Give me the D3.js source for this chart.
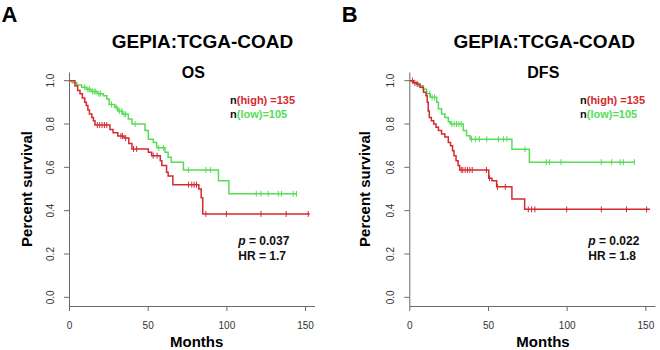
<!DOCTYPE html>
<html>
<head>
<meta charset="utf-8">
<script src="https://cdn.jsdelivr.net/npm/d3@7"></script>
<style>
  body { margin: 0; background: #fff; }
  svg { font-family: Arial, "Liberation Sans", sans-serif; }
</style>
</head>
<body>
<svg id="chart" width="660" height="350"></svg>
<script>
// step curves: [month, survival after the event]
const osHighSteps = [[0,1],[3.8,0.975],[5.5,0.955],[7,0.94],[8.5,0.92],[10,0.9],[11,0.885],[12,0.865],[13,0.846],[14.5,0.83],[15.5,0.815],[16.5,0.795],[26,0.775],[28,0.76],[31,0.745],[35,0.735],[38,0.71],[40,0.685],[50.4,0.67],[52.5,0.654],[58,0.63],[59,0.608],[62,0.577],[63,0.56],[66,0.52],[82.5,0.5],[84,0.46],[85,0.385]];
const osHighEnd = 153;
const osHighCensor = [18,19.5,21,22.5,24,33,34,36,41,43,53.5,56,76,78,79.5,81,87,100,122,138,152];

const osLowSteps = [[0,1],[2,0.99],[5,0.98],[8,0.97],[11,0.96],[14,0.95],[18,0.94],[21.8,0.93],[24,0.915],[25.5,0.89],[29,0.877],[31,0.86],[34,0.845],[37.7,0.823],[40,0.8],[48.3,0.77],[50.4,0.73],[53.6,0.715],[55.7,0.69],[61,0.67],[63,0.646],[65,0.623],[72.7,0.588],[95,0.538],[101.6,0.478]];
const osLowEnd = 144.6;
const osLowCensor = [10,12,13,15,16,17,19,20,27,30,32,33.5,35,36,42,57,60,76,87,90,119,122,126.6,133,135,142.5,144.5];

const dfsHighSteps = [[0,1],[2.5,0.99],[4.5,0.985],[6.8,0.97],[9,0.946],[10.6,0.93],[11.4,0.9],[12,0.86],[12.7,0.83],[14,0.815],[15.5,0.8],[17,0.785],[18.5,0.77],[20.5,0.754],[22.6,0.74],[24.8,0.715],[26.2,0.7],[27.5,0.677],[28.4,0.654],[29.7,0.63],[31,0.608],[32,0.588],[50.5,0.55],[52.5,0.538],[55.5,0.51],[65.2,0.454],[73.3,0.406]];
const dfsHighEnd = 153;
const dfsHighCensor = [2,3.5,5,33,34,35.5,37,38.5,40,49,51,56,61,75.6,77.7,79.8,100,122,138,150.8];

const dfsLowSteps = [[0,1],[2.5,0.99],[5.5,0.977],[8.8,0.96],[11,0.94],[13.3,0.923],[17.4,0.9],[18.5,0.87],[20.5,0.846],[22.6,0.83],[24.8,0.81],[26,0.8],[34.3,0.77],[36.4,0.746],[38.6,0.73],[65.2,0.683],[76.3,0.624]];
const dfsLowEnd = 143.4;
const dfsLowCensor = [13,14.5,16,27,28.5,30,31.5,33,39.5,42,44.5,49.2,56.6,59.8,62,73.5,87,89,96.4,122,128.6,134,136,143];

const xTicks = [0, 50, 100, 150];
const yTicks = [0, 0.2, 0.4, 0.6, 0.8, 1.0];

const red = "#d42a2f";
const green = "#55dd55";

const svg = d3.select("#chart");

const x = d3.scaleLinear().domain([0, 156]).range([0, 245.5]);
const y = d3.scaleLinear().domain([-0.04, 1.04]).range([306, 72]);

const panels = [
    { letter: "A", sub: "OS", x0: 69, titleX: 133.5, subX: 124.3, legX: 161, pX: 169.3, monthsX: 127.7, ylabX: -37.3,
      p: "0.037", hr: "1.7",
      curves: [
          { steps: osLowSteps, end: osLowEnd, censor: osLowCensor, color: green },
          { steps: osHighSteps, end: osHighEnd, censor: osHighCensor, color: red }
      ] },
    { letter: "B", sub: "DFS", x0: 409.3, titleX: 134.9, subX: 134, legX: 170.7, pX: 179, monthsX: 133.7, ylabX: -39.3,
      p: "0.022", hr: "1.8",
      curves: [
          { steps: dfsLowSteps, end: dfsLowEnd, censor: dfsLowCensor, color: green },
          { steps: dfsHighSteps, end: dfsHighEnd, censor: dfsHighCensor, color: red }
      ] }
];

const line = d3.line()
    .x(d => x(d[0]))
    .y(d => y(d[1]))
    .curve(d3.curveStepAfter);

function survAt(steps, t) {
    let s = 1;
    steps.forEach(d => { if (d[0] <= t) s = d[1]; });
    return s;
}

panels.forEach(pn => {
    const g = svg.append("g").attr("transform", `translate(${pn.x0},0)`);

    // panel letter
    svg.append("text")
        .attr("x", pn.x0 - 67.5)
        .attr("y", 21.7)
        .attr("font-size", 22)
        .attr("font-weight", "bold")
        .text(pn.letter);

    g.append("text")
        .attr("x", pn.titleX)
        .attr("y", 48.3)
        .attr("text-anchor", "middle")
        .attr("font-size", 19)
        .attr("font-weight", "bold")
        .text("GEPIA:TCGA-COAD");

    g.append("text")
        .attr("x", pn.subX)
        .attr("y", 78.3)
        .attr("text-anchor", "middle")
        .attr("font-size", 16)
        .attr("font-weight", "bold")
        .text(pn.sub);

    // axes
    const xAxis = g.append("g")
        .attr("transform", `translate(0,${y(-0.04)})`)
        .call(d3.axisBottom(x).tickValues(xTicks).tickSize(5).tickSizeOuter(0));
    const yAxis = g.append("g")
        .call(d3.axisLeft(y).tickValues(yTicks).tickFormat(d3.format(".1f")).tickSize(5).tickSizeOuter(0));

    [xAxis, yAxis].forEach(a => {
        a.selectAll("path, line").attr("stroke", "#6a6a6a").attr("stroke-width", 1);
        a.selectAll("text").attr("fill", "#333").attr("font-size", 10)
            .attr("font-family", "Arial, 'Liberation Sans', sans-serif");
    });
    xAxis.selectAll("text").attr("dy", null).attr("y", 22.5);
    yAxis.selectAll("text")
        .attr("x", null).attr("dy", null)
        .attr("text-anchor", "middle")
        .attr("transform", d => `translate(-15,${y(d)}) rotate(-90)`)
        .attr("y", 0);
    yAxis.selectAll(".tick").attr("transform", d => `translate(0,${y(d)})`);
    yAxis.selectAll(".tick text").attr("transform", "rotate(-90)").attr("x", 0).attr("y", -15.5).attr("dy", null);

    g.append("text")
        .attr("x", pn.monthsX)
        .attr("y", 346.5)
        .attr("text-anchor", "middle")
        .attr("font-size", 15)
        .attr("font-weight", "bold")
        .text("Months");

    g.append("text")
        .attr("transform", `translate(${pn.ylabX},${(y(1.04) + y(-0.04)) / 2}) rotate(-90)`)
        .attr("text-anchor", "middle")
        .attr("font-size", 15)
        .attr("font-weight", "bold")
        .text("Percent survival");

    // curves
    pn.curves.forEach(c => {
        const pts = c.steps.concat([[c.end, c.steps[c.steps.length - 1][1]]]);
        g.append("path")
            .datum(pts)
            .attr("fill", "none")
            .attr("stroke", c.color)
            .attr("stroke-width", 1.5)
            .attr("d", line);

        g.selectAll(null)
            .data(c.censor)
            .enter()
            .append("line")
            .attr("x1", d => x(d))
            .attr("x2", d => x(d))
            .attr("y1", d => y(survAt(c.steps, d)) - 3)
            .attr("y2", d => y(survAt(c.steps, d)) + 3)
            .attr("stroke", c.color)
            .attr("stroke-width", 1);
    });

    // legend
    const l1 = g.append("text").attr("x", pn.legX).attr("y", 104.3)
        .attr("font-size", 11).attr("font-weight", "bold");
    l1.append("tspan").attr("fill", "#111").text("n");
    l1.append("tspan").attr("fill", red).text("(high) =135");
    const l2 = g.append("text").attr("x", pn.legX).attr("y", 118.3)
        .attr("font-size", 11).attr("font-weight", "bold");
    l2.append("tspan").attr("fill", "#111").text("n");
    l2.append("tspan").attr("fill", green).text("(low)=105");

    const pt = g.append("text").attr("x", pn.pX).attr("y", 245)
        .attr("font-size", 12).attr("font-weight", "bold").attr("fill", "#111");
    pt.append("tspan").attr("font-style", "italic").text("p");
    pt.append("tspan").text(" = " + pn.p);
    g.append("text").attr("x", pn.pX).attr("y", 260)
        .attr("font-size", 12).attr("font-weight", "bold").attr("fill", "#111")
        .text("HR = " + pn.hr);
});
</script>
</body>
</html>
